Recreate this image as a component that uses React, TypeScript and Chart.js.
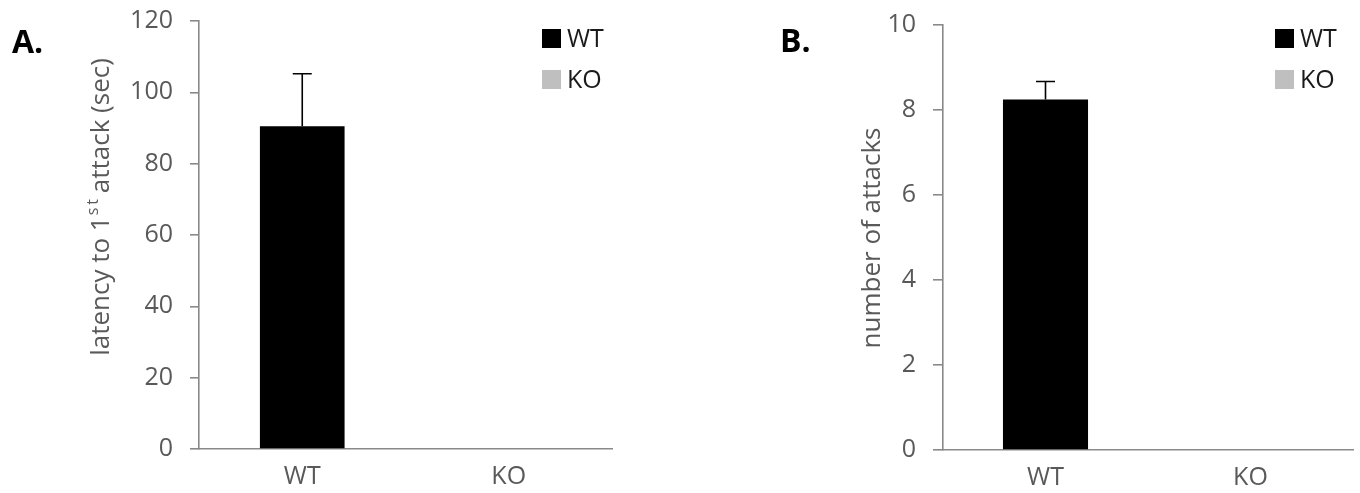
import React, { useEffect, useRef } from "react";
import { Chart, registerables } from "chart.js";

Chart.register(...registerables);

// Groups and their fill colours
const groups = ["WT", "KO"];
const groupColors = ["#000000", "#BFBFBF"];

// Panel A: latency to first attack (mean ± SEM, seconds)
const latencyMean = [90.5, 0];
const latencySem = [14.7, 0];
const latencyTicks = [0, 20, 40, 60, 80, 100, 120];

// Panel B: number of attacks (mean ± SEM)
const attackMean = [8.25, 0];
const attackSem = [0.42, 0];
const attackTicks = [0, 2, 4, 6, 8, 10];

const FONT = "'Open Sans', 'Liberation Sans', sans-serif";
const AXIS_GREY = "#898989";
const TEXT_GREY = "#595959";

// Upper error bars drawn on top of each bar
const errorBarPlugin = {
  id: "errorBars",
  afterDatasetsDraw(chart: any) {
    const { ctx } = chart;
    const yScale = chart.scales.y;
    chart.data.datasets.forEach((ds: any, di: number) => {
      const meta = chart.getDatasetMeta(di);
      const errs: number[] = ds.errors || [];
      meta.data.forEach((bar: any, i: number) => {
        const e = errs[i];
        if (!e) return;
        const v = ds.data[i];
        const yTop = yScale.getPixelForValue(v + e);
        const yBar = yScale.getPixelForValue(v);
        ctx.save();
        ctx.strokeStyle = "#000";
        ctx.lineWidth = 1.6;
        ctx.beginPath();
        ctx.moveTo(bar.x, yBar);
        ctx.lineTo(bar.x, yTop);
        ctx.moveTo(bar.x - 9.5, yTop);
        ctx.lineTo(bar.x + 9.5, yTop);
        ctx.stroke();
        ctx.restore();
      });
    });
  },
};

// Panel letter, rotated y-axis title (with optional superscript) and in-plot legend
const decorPlugin = {
  id: "decor",
  afterDraw(chart: any, _args: any, opts: any) {
    const { ctx } = chart;
    ctx.save();
    // panel letter
    ctx.fillStyle = "#000";
    ctx.font = `bold 32px ${FONT}`;
    ctx.textAlign = "left";
    ctx.textBaseline = "alphabetic";
    ctx.fillText(opts.label.text, opts.label.x, opts.label.y);

    // y-axis title
    const segs: { t: string; sup?: boolean }[] = opts.title.parts;
    const size = opts.title.size;
    const supSize = Math.round(size * 0.62);
    const widthOf = (s: { t: string; sup?: boolean }) => {
      ctx.font = `${s.sup ? supSize : size}px ${FONT}`;
      return ctx.measureText(s.t).width + (s.sup ? 3 : 0);
    };
    const total = segs.reduce((a, s) => a + widthOf(s), 0);
    ctx.translate(opts.title.x, opts.title.y);
    ctx.rotate(-Math.PI / 2);
    ctx.fillStyle = TEXT_GREY;
    ctx.textAlign = "left";
    ctx.textBaseline = "middle";
    let cx = -total / 2;
    segs.forEach((s) => {
      ctx.font = `${s.sup ? supSize : size}px ${FONT}`;
      if (s.sup) (ctx as any).letterSpacing = "3px";
      ctx.fillText(s.t, cx + (s.sup ? 1 : 0), s.sup ? -size * 0.32 : 0);
      (ctx as any).letterSpacing = "0px";
      cx += widthOf(s);
    });
    ctx.setTransform(1, 0, 0, 1, 0, 0);
    ctx.restore();

    // legend built from the category labels and bar colours
    ctx.save();
    const labels: string[] = chart.data.labels;
    const colors: string[] = chart.data.datasets[0].backgroundColor;
    const lg = opts.legend;
    labels.forEach((lab, i) => {
      const y = lg.y + i * lg.gap;
      ctx.fillStyle = colors[i];
      ctx.fillRect(lg.x, y, lg.box, lg.box);
      ctx.fillStyle = "#1a1a1a";
      ctx.font = `25px ${FONT}`;
      ctx.textAlign = "left";
      ctx.textBaseline = "middle";
      ctx.fillText(lab, lg.x + lg.box + 6, y + lg.box / 2 + 1);
    });
    ctx.restore();
  },
};

type PanelProps = {
  means: number[];
  sems: number[];
  ticks: number[];
  yWidth: number;
  xHeight: number;
  padTop: number;
  padRight: number;
  tickLen: number;
  barPct: number;
  decor: any;
};

function Panel(p: PanelProps) {
  const ref = useRef<HTMLCanvasElement | null>(null);
  useEffect(() => {
    if (!ref.current) return;
    const chart = new Chart(ref.current, {
      type: "bar",
      data: {
        labels: groups,
        datasets: [
          {
            data: p.means,
            backgroundColor: groupColors,
            barPercentage: p.barPct,
            categoryPercentage: 1,
            errors: p.sems,
          } as any,
        ],
      },
      options: {
        responsive: false,
        animation: false,
        layout: { padding: { left: 0, right: p.padRight, top: p.padTop, bottom: 0 } },
        plugins: {
          legend: { display: false },
          tooltip: { enabled: false },
          decor: p.decor,
        } as any,
        scales: {
          x: {
            grid: { display: false, drawTicks: false },
            border: { color: AXIS_GREY, width: 1.6 },
            ticks: { color: TEXT_GREY, font: { family: FONT, size: 25 }, padding: 13 },
            afterFit: (s: any) => {
              s.height = p.xHeight;
              s.paddingLeft = 0;
              s.paddingRight = 0;
            },
          },
          y: {
            min: p.ticks[0],
            max: p.ticks[p.ticks.length - 1],
            afterBuildTicks: (s: any) => {
              s.ticks = p.ticks.map((v) => ({ value: v }));
            },
            grid: {
              drawOnChartArea: false,
              drawTicks: true,
              tickLength: p.tickLen,
              color: AXIS_GREY,
              lineWidth: 1.6,
            },
            border: { color: AXIS_GREY, width: 1.6 },
            ticks: { color: TEXT_GREY, font: { family: FONT, size: 25 }, padding: 17 },
            afterFit: (s: any) => {
              s.width = p.yWidth;
              s.paddingTop = 0;
              s.paddingBottom = 0;
            },
          },
        },
      } as any,
      plugins: [errorBarPlugin, decorPlugin],
    });
    return () => chart.destroy();
  }, []);
  return <canvas ref={ref} width={680} height={493} style={{ display: "block" }} />;
}

export default function App() {
  return (
    <div
      style={{
        position: "absolute",
        left: 0,
        top: 0,
        width: 1360,
        height: 493,
        background: "#fff",
        display: "flex",
      }}
    >
      <Panel
        means={latencyMean}
        sems={latencySem}
        ticks={latencyTicks}
        yWidth={199}
        xHeight={44}
        padTop={21}
        padRight={68}
        tickLen={9}
        barPct={0.41}
        decor={{
          label: { text: "A.", x: 12, y: 53 },
          title: {
            parts: [{ t: "latency to 1" }, { t: "st", sup: true }, { t: " attack (sec)" }],
            size: 26,
            x: 102,
            y: 207,
          },
          legend: { x: 542, y: 29, gap: 41, box: 19 },
        }}
      />
      <Panel
        means={attackMean}
        sems={attackSem}
        ticks={attackTicks}
        yWidth={263}
        xHeight={43}
        padTop={25}
        padRight={7}
        tickLen={10}
        barPct={0.415}
        decor={{
          label: { text: "B.", x: 100, y: 52 },
          title: {
            parts: [{ t: "number of attacks" }],
            size: 26,
            x: 193,
            y: 238,
          },
          legend: { x: 595, y: 29, gap: 41, box: 19 },
        }}
      />
    </div>
  );
}
